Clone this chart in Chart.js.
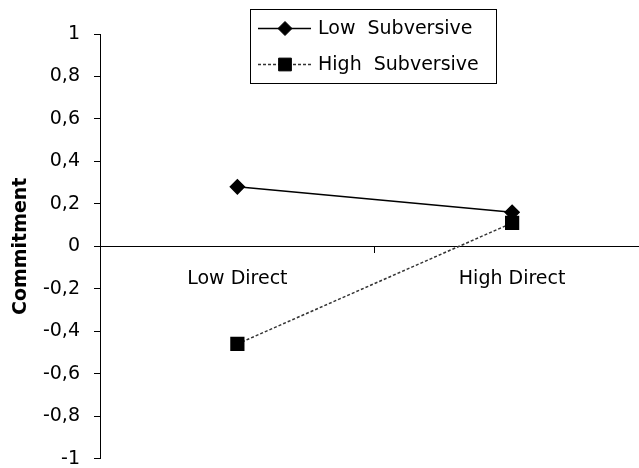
<!DOCTYPE html>
<html>
<head>
<meta charset="utf-8">
<script src="https://cdn.jsdelivr.net/npm/chart.js@4"></script>
<style>
html,body{margin:0;padding:0;background:#fff;overflow:hidden;}
#wrap{width:639px;height:468px;overflow:hidden;position:relative;}
canvas{display:block;}
</style>
</head>
<body>
<div id="wrap"><canvas id="c" width="660" height="484"></canvas></div>
<script>
const categories = ['Low Direct', 'High Direct'];
const lowSubversive = [0.28, 0.16];
const highSubversive = [-0.46, 0.11];
const seriesNames = ['Low  Subversive', 'High  Subversive'];
const yTickLabels = ['-1', '-0,8', '-0,6', '-0,4', '-0,2', '0', '0,2', '0,4', '0,6', '0,8', '1'];
const yTitle = 'Commitment';

const FONT = 'DejaVu Sans, Verdana, sans-serif';

const legendPlugin = {
  id: 'boxLegend',
  afterDraw(chart) {
    const ctx = chart.ctx;
    const bx = 250, by = 9, bw = 246, bh = 74;
    ctx.save();
    ctx.fillStyle = '#fff';
    ctx.fillRect(bx, by, bw, bh);
    ctx.strokeStyle = '#000';
    ctx.lineWidth = 1;
    ctx.strokeRect(bx + 0.5, by + 0.5, bw, bh);
    const rows = [28, 64];
    chart.data.datasets.forEach((ds, i) => {
      const y = rows[i];
      ctx.strokeStyle = ds.borderColor;
      ctx.lineWidth = ds.borderWidth;
      ctx.setLineDash(ds.borderDash || []);
      ctx.beginPath();
      ctx.moveTo(258, y + 0.5);
      ctx.lineTo(311, y + 0.5);
      ctx.stroke();
      ctx.setLineDash([]);
      ctx.fillStyle = '#000';
      ctx.strokeStyle = '#000';
      ctx.lineWidth = 1;
      Chart.helpers.drawPoint(ctx, {
        pointStyle: ds.pointStyle,
        radius: ds.pointRadius,
        borderWidth: 1,
        rotation: 0
      }, 285, y + 0.5);
      ctx.fillStyle = '#000';
      ctx.font = '19px ' + FONT;
      ctx.textBaseline = 'middle';
      ctx.textAlign = 'left';
      ctx.fillText(ds.label, 318, y + 1);
    });
    ctx.restore();
  }
};

const chart = new Chart(document.getElementById('c'), {
  type: 'line',
  data: {
    labels: categories,
    datasets: [
      {
        label: seriesNames[0],
        data: lowSubversive,
        borderColor: '#000',
        backgroundColor: '#000',
        borderWidth: 1.5,
        pointStyle: 'rectRot',
        pointRadius: 7,
        pointHoverRadius: 7,
        pointBackgroundColor: '#000',
        pointBorderColor: '#000',
        tension: 0
      },
      {
        label: seriesNames[1],
        data: highSubversive,
        borderColor: '#333',
        backgroundColor: '#000',
        borderWidth: 1.5,
        borderDash: [3, 2],
        pointStyle: 'rect',
        pointRadius: 9,
        pointHoverRadius: 9,
        pointBackgroundColor: '#000',
        pointBorderColor: '#000',
        tension: 0
      }
    ]
  },
  options: {
    responsive: false,
    animation: false,
    devicePixelRatio: 1,
    events: [],
    layout: { padding: { left: 0, right: 4, top: 34, bottom: 11 } },
    plugins: { legend: { display: false }, tooltip: { enabled: false } },
    scales: {
      x: {
        type: 'category',
        position: { y: 0 },
        offset: true,
        afterFit(scale) { scale.height = 0; },
        grid: { offset: true, drawOnChartArea: false, tickLength: 6, color: '#000', tickColor: '#000' },
        border: { display: true, color: '#000', width: 1 },
        ticks: { color: '#000', font: { family: FONT, size: 19 }, padding: 15, maxRotation: 0 }
      },
      y: {
        min: -1,
        max: 1,
        afterFit(scale) { scale.width = 100; },
        grid: { drawOnChartArea: false, tickLength: 6, color: '#000', tickColor: '#000' },
        border: { display: true, color: '#000', width: 1 },
        ticks: {
          stepSize: 0.2,
          color: '#000',
          padding: 14,
          font: { family: FONT, size: 19 },
          callback: (v, i) => yTickLabels[i]
        },
        title: {
          display: true,
          text: yTitle,
          color: '#000',
          font: { family: FONT, size: 19, weight: 'bold' },
          padding: { top: 10, bottom: 0 }
        }
      }
    }
  },
  plugins: [legendPlugin]
});
</script>
</body>
</html>
